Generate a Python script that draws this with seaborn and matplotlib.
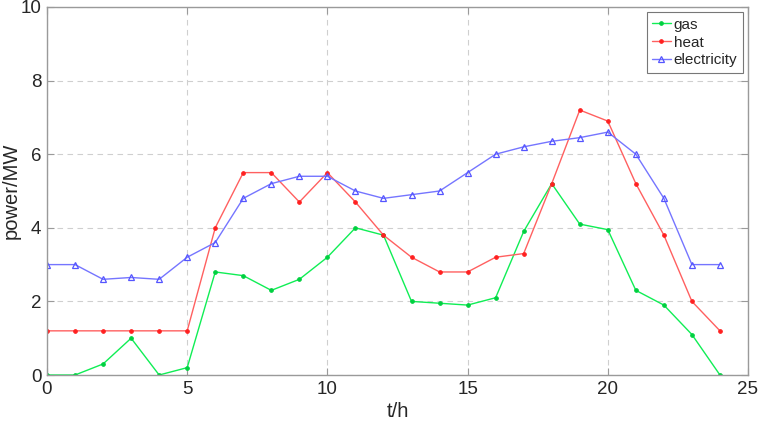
import matplotlib
matplotlib.use("Agg")
import matplotlib.pyplot as plt
import seaborn as sns
import numpy as np

hours = list(range(25))
gas = [0, 0, 0.3, 1.0, 0, 0.2, 2.8, 2.7, 2.3, 2.6, 3.2, 4.0, 3.8, 2.0, 1.95, 1.9,
       2.1, 3.9, 5.2, 4.1, 3.95, 2.3, 1.9, 1.1, 0]
heat = [1.2, 1.2, 1.2, 1.2, 1.2, 1.2, 4.0, 5.5, 5.5, 4.7, 5.5, 4.7, 3.8, 3.2, 2.8, 2.8,
        3.2, 3.3, 5.2, 7.2, 6.9, 5.2, 3.8, 2.0, 1.2]
electricity = [3.0, 3.0, 2.6, 2.65, 2.6, 3.2, 3.6, 4.8, 5.2, 5.4, 5.4, 5.0, 4.8, 4.9, 5.0, 5.5,
               6.0, 6.2, 6.35, 6.45, 6.6, 6.0, 4.8, 3.0, 3.0]
xticks = [0, 5, 10, 15, 20, 25]
yticks = [0, 2, 4, 6, 8, 10]

sns.set_style("white")
plt.rcParams['font.family'] = ['Liberation Sans', 'DejaVu Sans']

fig = plt.figure(figsize=(7.61, 4.25), dpi=100)
ax = fig.add_axes([47/761, 1 - 375/425, (748 - 47)/761, (375 - 7)/425])

sns.lineplot(x=hours, y=gas, ax=ax, color="#10ee55", lw=1.0, marker="o", ms=2.6,
             mec="#00d040", mfc="#00d040", label="gas")
sns.lineplot(x=hours, y=heat, ax=ax, color="#ff6060", lw=1.0, marker="o", ms=2.6,
             mec="#ff2020", mfc="#ff2020", label="heat")
sns.lineplot(x=hours, y=electricity, ax=ax, color="#7575ff", lw=1.0, marker="^", ms=4.5,
             mec="#5555ff", mfc="none", mew=0.9, label="electricity")

ax.set_xlim(0, 25)
ax.set_ylim(0, 10)
ax.set_xticks(xticks)
ax.set_yticks(yticks)
ax.grid(True, ls=(0, (5, 4)), color="#cfcfcf", lw=0.8)
for s in ax.spines.values():
    s.set_color("#9a9a9a")
    s.set_linewidth(1.0)
ax.tick_params(direction="in", length=5, width=0.8, color="#9a9a9a",
               labelsize=13.5, labelcolor="#262626", top=True, right=True,
               bottom=True, left=True, pad=4)
ax.set_xlabel("t/h", fontsize=14.5, color="#262626", labelpad=3)
ax.set_ylabel("power/MW", fontsize=14.5, color="#262626", labelpad=0)

leg = ax.legend(loc="upper right", fontsize=11, frameon=True, fancybox=False,
                edgecolor="#555555", handlelength=1.2, handletextpad=0.2,
                borderpad=0.35, labelspacing=0.25, borderaxespad=0.35)
leg.get_frame().set_linewidth(0.8)

fig.savefig("out.png", dpi=100)
